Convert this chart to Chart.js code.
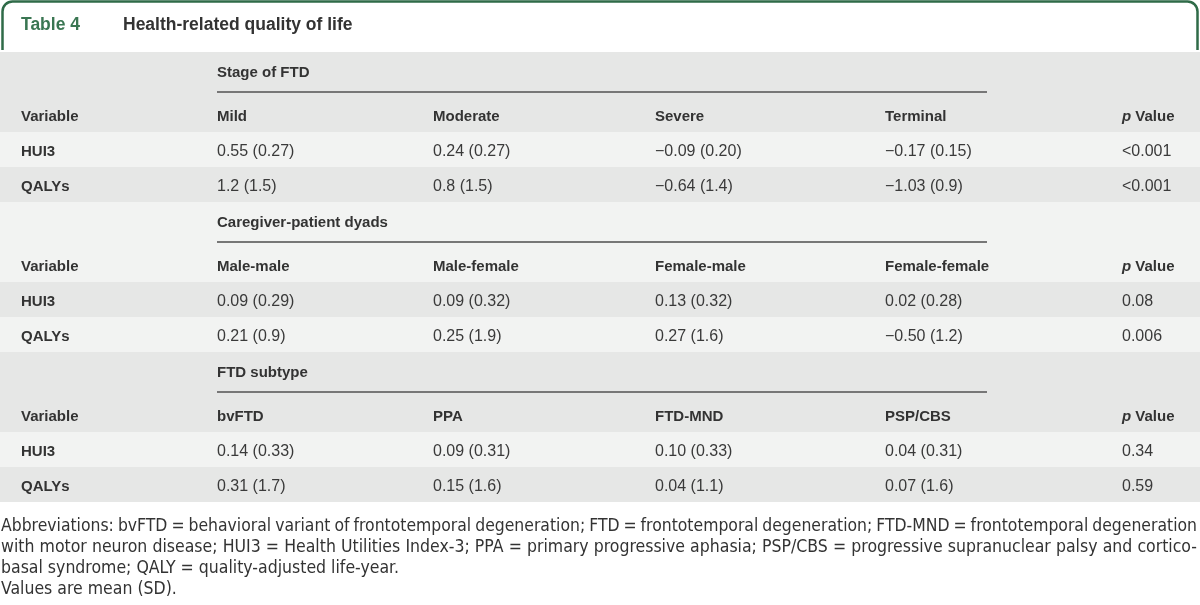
<!DOCTYPE html>
<html>
<head>
<meta charset="utf-8">
<script src="https://cdn.jsdelivr.net/npm/chart.js@4"></script>
<style>
    html, body { margin: 0; padding: 0; background: #ffffff; }
    canvas { display: block; }
</style>
</head>
<body>
<canvas id="table4" width="1200" height="605"></canvas>
<script>
    // table content
    const tableNumber = 'Table 4';
    const tableTitle = 'Health-related quality of life';
    const groupTitles = ['Stage of FTD', 'Caregiver-patient dyads', 'FTD subtype'];
    const stageCols = ['Mild', 'Moderate', 'Severe', 'Terminal'];
    const dyadCols = ['Male-male', 'Male-female', 'Female-male', 'Female-female'];
    const subtypeCols = ['bvFTD', 'PPA', 'FTD-MND', 'PSP/CBS'];
    const variables = ['HUI3', 'QALYs'];

    const stageHui3 = ['0.55 (0.27)', '0.24 (0.27)', '\u22120.09 (0.20)', '\u22120.17 (0.15)'];
    const stageQalys = ['1.2 (1.5)', '0.8 (1.5)', '\u22120.64 (1.4)', '\u22121.03 (0.9)'];
    const stageP = ['<0.001', '<0.001'];

    const dyadHui3 = ['0.09 (0.29)', '0.09 (0.32)', '0.13 (0.32)', '0.02 (0.28)'];
    const dyadQalys = ['0.21 (0.9)', '0.25 (1.9)', '0.27 (1.6)', '\u22120.50 (1.2)'];
    const dyadP = ['0.08', '0.006'];

    const subtypeHui3 = ['0.14 (0.33)', '0.09 (0.31)', '0.10 (0.33)', '0.04 (0.31)'];
    const subtypeQalys = ['0.31 (1.7)', '0.15 (1.6)', '0.04 (1.1)', '0.07 (1.6)'];
    const subtypeP = ['0.34', '0.59'];

    const footnotes = [
        'Abbreviations: bvFTD = behavioral variant of frontotemporal degeneration; FTD = frontotemporal degeneration; FTD-MND = frontotemporal degeneration',
        'with motor neuron disease; HUI3 = Health Utilities Index-3; PPA = primary progressive aphasia; PSP/CBS = progressive supranuclear palsy and cortico-',
        'basal syndrome; QALY = quality-adjusted life-year.',
        'Values are mean (SD).'
    ];

    // layout (canvas units)
    const colX = [21, 217, 433, 655, 885, 1122];
    const bodyTop = 52, headH = 80, rowH = 35;
    const ruleEnd = 987;
    const dark = '#e6e7e6', light = '#f2f3f2';
    const green = '#2f6b48';
    const FONT = '"Liberation Sans", Arial, sans-serif';

    const sections = [
        { title: groupTitles[0], cols: stageCols, rows: [stageHui3, stageQalys], p: stageP },
        { title: groupTitles[1], cols: dyadCols, rows: [dyadHui3, dyadQalys], p: dyadP },
        { title: groupTitles[2], cols: subtypeCols, rows: [subtypeHui3, subtypeQalys], p: subtypeP }
    ];

    // one anchor point per text cell, placed through the chart's scales
    const cells = [];
    const bands = [];
    let band = 0;
    sections.forEach((sec, i) => {
        const s = bodyTop + i * (headH + 2 * rowH);
        bands.push({ y0: s, y1: s + headH, fill: band++ % 2 ? light : dark });
        cells.push({ x: colX[1], y: s + 21, text: sec.title, kind: 'head', rule: true });
        cells.push({ x: colX[0], y: s + 65, text: 'Variable', kind: 'head' });
        sec.cols.forEach((c, j) => cells.push({ x: colX[j + 1], y: s + 65, text: c, kind: 'head' }));
        cells.push({ x: colX[5], y: s + 65, text: 'Value', kind: 'pval' });
        sec.rows.forEach((vals, r) => {
            const y0 = s + headH + r * rowH;
            bands.push({ y0: y0, y1: y0 + rowH, fill: band++ % 2 ? light : dark });
            const yc = y0 + rowH / 2 + 2;
            cells.push({ x: colX[0], y: yc, text: variables[r], kind: 'head' });
            vals.forEach((v, j) => cells.push({ x: colX[j + 1], y: yc, text: v, kind: 'data' }));
            cells.push({ x: colX[5], y: yc, text: sec.p[r], kind: 'data' });
        });
    });

    const tablePlugin = {
        id: 'tablePlugin',
        beforeDatasetsDraw(chart) {
            const ctx = chart.ctx;
            const xs = chart.scales.x, ys = chart.scales.y;
            ctx.save();
            // row bands
            bands.forEach(b => {
                const top = ys.getPixelForValue(b.y0), bot = ys.getPixelForValue(b.y1);
                ctx.fillStyle = b.fill;
                ctx.fillRect(xs.getPixelForValue(0), top, xs.getPixelForValue(1200) - xs.getPixelForValue(0), bot - top);
            });
            // title frame
            ctx.strokeStyle = green;
            ctx.lineWidth = 2.5;
            ctx.beginPath();
            ctx.moveTo(xs.getPixelForValue(2.5), ys.getPixelForValue(50));
            ctx.arcTo(xs.getPixelForValue(2.5), ys.getPixelForValue(1.5), xs.getPixelForValue(14), ys.getPixelForValue(1.5), 10);
            ctx.arcTo(xs.getPixelForValue(1197.5), ys.getPixelForValue(1.5), xs.getPixelForValue(1197.5), ys.getPixelForValue(14), 10);
            ctx.lineTo(xs.getPixelForValue(1197.5), ys.getPixelForValue(50));
            ctx.stroke();
            ctx.textBaseline = 'middle';
            ctx.font = 'bold 17.5px ' + FONT;
            ctx.fillStyle = '#3a7652';
            ctx.fillText(tableNumber, xs.getPixelForValue(21), ys.getPixelForValue(25));
            ctx.fillStyle = '#333333';
            ctx.fillText(tableTitle, xs.getPixelForValue(123), ys.getPixelForValue(25));
            ctx.restore();
        },
        afterDatasetsDraw(chart) {
            const ctx = chart.ctx;
            const xs = chart.scales.x, ys = chart.scales.y;
            const meta = chart.getDatasetMeta(0);
            ctx.save();
            ctx.textBaseline = 'middle';
            meta.data.forEach((pt, i) => {
                const c = cells[i];
                if (c.kind === 'data') {
                    ctx.font = '16px ' + FONT;
                    ctx.fillStyle = '#3a3a3a';
                    ctx.fillText(c.text, pt.x, pt.y);
                } else if (c.kind === 'pval') {
                    ctx.fillStyle = '#333333';
                    ctx.font = 'italic bold 15px ' + FONT;
                    ctx.fillText('p', pt.x, pt.y);
                    const w = ctx.measureText('p ').width;
                    ctx.font = 'bold 15px ' + FONT;
                    ctx.fillText(c.text, pt.x + w, pt.y);
                } else {
                    ctx.font = 'bold 15px ' + FONT;
                    ctx.fillStyle = '#333333';
                    ctx.fillText(c.text, pt.x, pt.y);
                }
                if (c.rule) {
                    ctx.strokeStyle = '#777777';
                    ctx.lineWidth = 2;
                    ctx.beginPath();
                    ctx.moveTo(pt.x, pt.y + 19);
                    ctx.lineTo(xs.getPixelForValue(ruleEnd), pt.y + 19);
                    ctx.stroke();
                }
            });
            // footnotes, first two lines justified
            ctx.font = '17.5px "DejaVu Sans Condensed", "Liberation Sans Narrow", sans-serif';
            ctx.fillStyle = '#333333';
            const left = xs.getPixelForValue(1), right = xs.getPixelForValue(1197);
            footnotes.forEach((line, i) => {
                const y = ys.getPixelForValue(526 + i * 21);
                if (i < 2) {
                    const words = line.split(' ');
                    const widths = words.map(w => ctx.measureText(w).width);
                    const total = widths.reduce((a, b) => a + b, 0);
                    let gap = (right - left - total) / (words.length - 1);
                    let scale = 1;
                    if (gap < 4) { gap = 4; scale = (right - left - gap * (words.length - 1)) / total; }
                    let x = left;
                    words.forEach((w, k) => {
                        ctx.fillText(w, x, y, widths[k] * scale);
                        x += widths[k] * scale + gap;
                    });
                } else {
                    ctx.fillText(line, left, y);
                }
            });
            ctx.restore();
        }
    };

    const ctx = document.getElementById('table4').getContext('2d');

    const table = new Chart(ctx, {
        type: 'scatter',
        data: {
            datasets: [{
                data: cells.map(c => ({ x: c.x, y: c.y })),
                pointRadius: 0,
                pointHoverRadius: 0
            }]
        },
        options: {
            responsive: false,
            animation: false,
            events: [],
            layout: { padding: 0 },
            plugins: { legend: { display: false }, tooltip: { enabled: false } },
            scales: {
                x: { type: 'linear', min: 0, max: 1200, display: false },
                y: { type: 'linear', min: 0, max: 605, reverse: true, display: false }
            }
        },
        plugins: [tablePlugin]
    });
</script>
</body>
</html>
